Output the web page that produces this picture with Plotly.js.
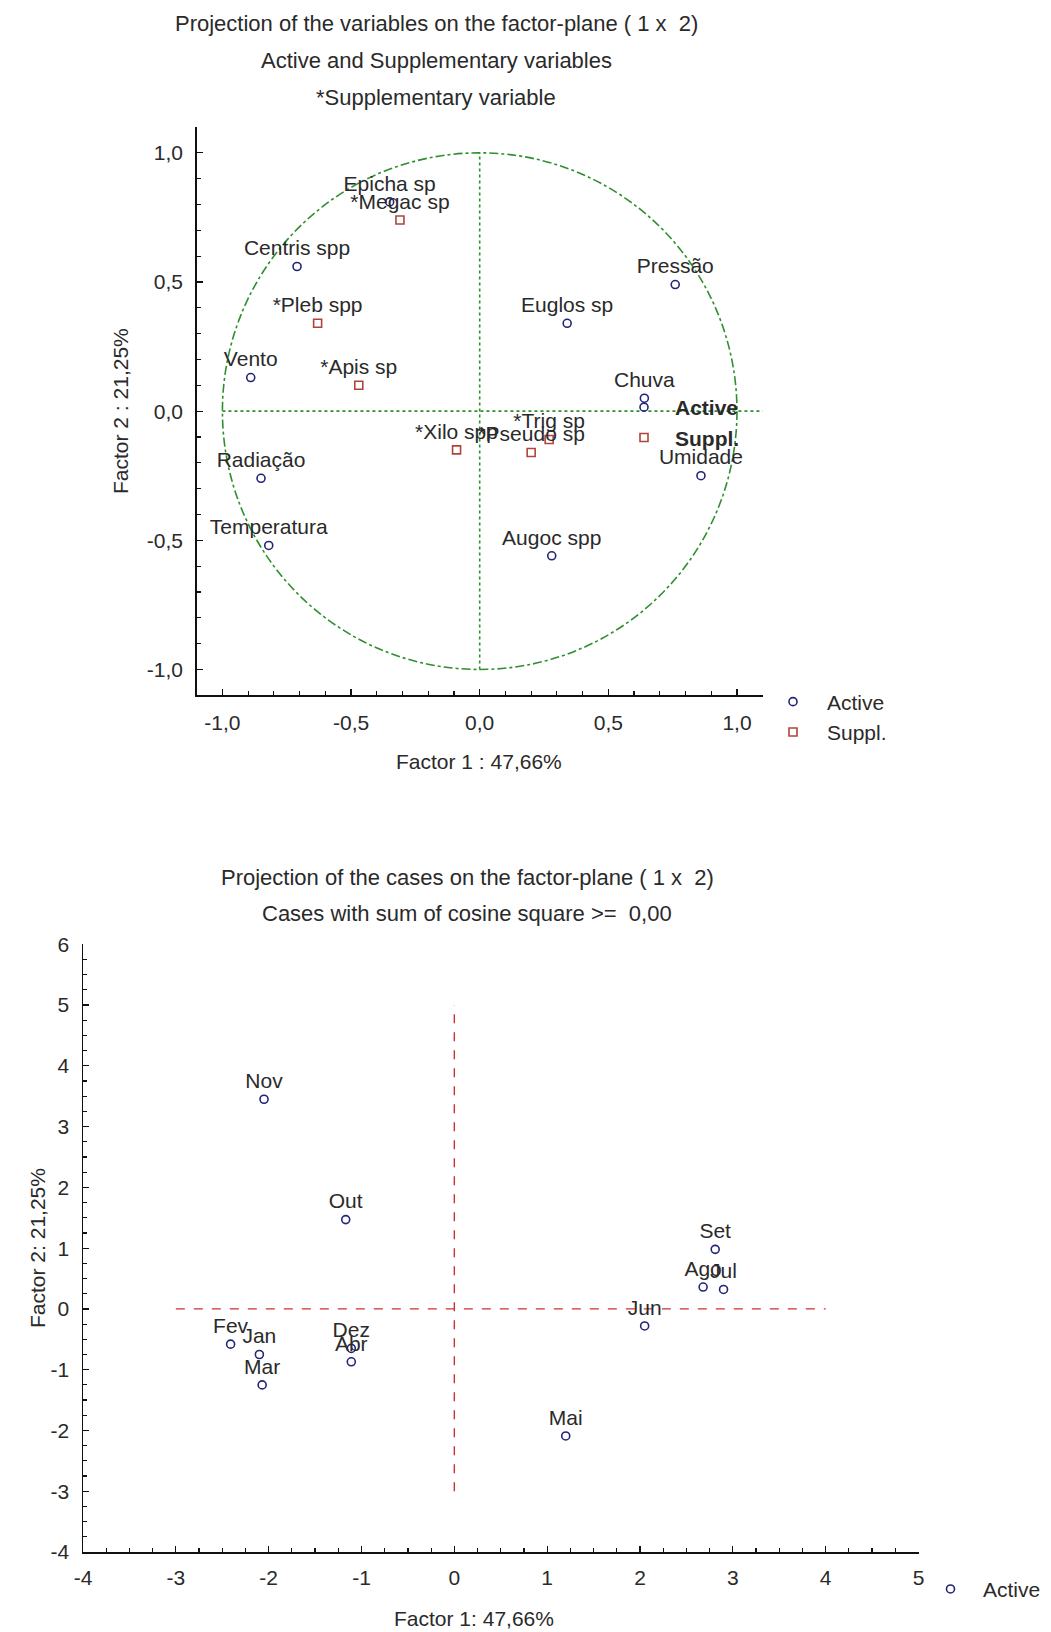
<!DOCTYPE html>
<html>
<head>
<meta charset="utf-8">
<script src="https://cdn.plot.ly/plotly-3.0.1.min.js"></script>
<style>
html,body{margin:0;padding:0;background:#ffffff;}
#chart{width:1051px;height:1632px;}
</style>
</head>
<body>
<div id="chart"></div>
<script>
// ---------- DATA: projection of the variables (factor plane 1 x 2) ----------
const activeVarNames = ['Epicha sp','Centris spp','Vento','Radiação','Temperatura','Augoc spp','Euglos sp','Pressão','Chuva','Umidade'];
const activeVarF1    = [-0.35, -0.71, -0.89, -0.85, -0.82, 0.28, 0.34, 0.76, 0.64, 0.86];
const activeVarF2    = [ 0.81,  0.56,  0.13, -0.26, -0.52, -0.56, 0.34, 0.49, 0.05, -0.25];

const supplVarNames = ['*Megac sp','*Pleb spp','*Apis sp','*Xilo spp','*Pseudo sp','*Trig sp'];
const supplVarF1    = [-0.31, -0.63, -0.47, -0.09, 0.20, 0.27];
const supplVarF2    = [ 0.74,  0.34,  0.10, -0.15, -0.16, -0.11];

// ---------- DATA: projection of the cases (months) ----------
const caseNames = ['Jan','Fev','Mar','Abr','Mai','Jun','Jul','Ago','Set','Out','Nov','Dez'];
const caseF1    = [-2.10, -2.41, -2.07, -1.11, 1.20, 2.05, 2.90, 2.68, 2.81, -1.17, -2.05, -1.11];
const caseF2    = [-0.75, -0.58, -1.25, -0.87, -2.09, -0.28, 0.32, 0.36, 0.98, 1.47, 3.45, -0.65];

// ---------- tick labels ----------
const varTickVals  = [-1, -0.5, 0, 0.5, 1];
const varTickText  = ['-1,0', '-0,5', '0,0', '0,5', '1,0'];
const caseXTickVals = [-4, -3, -2, -1, 0, 1, 2, 3, 4, 5];
const caseXTickText = ['-4', '-3', '-2', '-1', '0', '1', '2', '3', '4', '5'];
const caseYTickVals = [-4, -3, -2, -1, 0, 1, 2, 3, 4, 5, 6];
const caseYTickText = ['-4', '-3', '-2', '-1', '0', '1', '2', '3', '4', '5', '6'];

// ---------- text ----------
const varTitles  = ['Projection of the variables on the factor-plane ( 1 x  2)', 'Active and Supplementary variables', '*Supplementary variable'];
const caseTitles = ['Projection of the cases on the factor-plane ( 1 x  2)', 'Cases with sum of cosine square >=  0,00'];
const varXTitle  = 'Factor 1 : 47,66%';
const varYTitle  = 'Factor 2 : 21,25%';
const caseXTitle = 'Factor 1: 47,66%';
const caseYTitle = 'Factor 2: 21,25%';

// ---------- styling ----------
const W = 1051, H = 1632;
const FONT = 'Liberation Sans, Arial, Helvetica, sans-serif';
const TXT = '#2a2a2a';
const BLUE = '#23237a';
const RED = '#b0443c';
const GREEN = '#2f8f2f';
const DASHRED = '#cc3030';
const AXC = '#111111';

const px = v => v / W;           // pixel x -> paper
const py = v => 1 - v / H;       // pixel y (from top) -> paper

const circleMarker = {symbol:'circle-open', size:8, color:BLUE, line:{width:1.6, color:BLUE}};
const squareMarker = {symbol:'square-open', size:8, color:RED,  line:{width:1.6, color:RED}};
const labelFont = {family:FONT, size:21, color:TXT};

const traces = [
  {type:'scatter', mode:'markers+text', x:activeVarF1, y:activeVarF2, text:activeVarNames,
   textposition:'top center', textfont:labelFont, marker:circleMarker, showlegend:false,
   xaxis:'x', yaxis:'y', cliponaxis:false, hoverinfo:'skip'},
  {type:'scatter', mode:'markers+text', x:supplVarF1, y:supplVarF2, text:supplVarNames,
   textposition:'top center', textfont:labelFont, marker:squareMarker, showlegend:false,
   xaxis:'x', yaxis:'y', cliponaxis:false, hoverinfo:'skip'},
  {type:'scatter', mode:'markers+text', x:caseF1, y:caseF2, text:caseNames,
   textposition:'top center', textfont:labelFont, marker:circleMarker, showlegend:false,
   xaxis:'x2', yaxis:'y2', cliponaxis:false, hoverinfo:'skip'},
  // legend entries
  {type:'scatter', mode:'markers', x:[null], y:[null], name:'Active', marker:circleMarker, legend:'legend',  xaxis:'x', yaxis:'y'},
  {type:'scatter', mode:'markers', x:[null], y:[null], name:'Suppl.', marker:squareMarker, legend:'legend',  xaxis:'x', yaxis:'y'},
  {type:'scatter', mode:'markers', x:[null], y:[null], name:'Active', marker:circleMarker, legend:'legend3', xaxis:'x', yaxis:'y'},
  {type:'scatter', mode:'markers', x:[null], y:[null], name:'Suppl.', marker:squareMarker, legend:'legend3', xaxis:'x', yaxis:'y'},
  {type:'scatter', mode:'markers', x:[null], y:[null], name:'Active', marker:circleMarker, legend:'legend2', xaxis:'x2', yaxis:'y2'}
];

function axisBase(extra) {
  return Object.assign({
    showline:true, linecolor:AXC, linewidth:1.5, mirror:false,
    zeroline:false, showgrid:false,
    ticks:'inside', ticklen:6, tickwidth:1.3, tickcolor:AXC,
    tickmode:'array',
    tickfont:{family:FONT, size:21, color:TXT},
    fixedrange:true
  }, extra);
}

const varRange = [-1.1, 1.1];
const caseXRange = [-4, 5];
const caseYRange = [-4, 6];

const layout = {
  width:W, height:H,
  margin:{l:0, r:0, t:0, b:0, pad:0},
  paper_bgcolor:'#ffffff', plot_bgcolor:'#ffffff',
  font:{family:FONT, size:21, color:TXT},
  showlegend:true,
  hovermode:false,
  xaxis: axisBase({domain:[px(196.7), px(762.7)], range:varRange, anchor:'y',
    tickvals:varTickVals, ticktext:varTickText, ticklabelstandoff:8,
    minor:{tickmode:'linear', tick0:0, dtick:0.1, ticks:'inside', ticklen:4, tickwidth:1.2, tickcolor:AXC, showgrid:false}}),
  yaxis: axisBase({domain:[py(695.3), py(127)], range:varRange, anchor:'x',
    tickvals:varTickVals, ticktext:varTickText, ticklabelstandoff:8,
    minor:{tickmode:'linear', tick0:0, dtick:0.1, ticks:'inside', ticklen:4, tickwidth:1.2, tickcolor:AXC, showgrid:false}}),
  xaxis2: axisBase({domain:[px(83), px(918.5)], range:caseXRange, anchor:'y2',
    tickvals:caseXTickVals, ticktext:caseXTickText, ticklabelstandoff:6,
    minor:{tickmode:'linear', tick0:0, dtick:0.25, ticks:'inside', ticklen:4, tickwidth:1.2, tickcolor:AXC, showgrid:false}}),
  yaxis2: axisBase({domain:[py(1552), py(944.3)], range:caseYRange, anchor:'x2',
    tickvals:caseYTickVals, ticktext:caseYTickText, ticklabelstandoff:8,
    minor:{tickmode:'linear', tick0:0, dtick:0.25, ticks:'inside', ticklen:4, tickwidth:1.2, tickcolor:AXC, showgrid:false}}),
  legend: {x:px(759), xanchor:'left', y:py(717), yanchor:'middle', itemwidth:58,
    font:{family:FONT, size:21, color:TXT}, bgcolor:'rgba(0,0,0,0)', borderwidth:0},
  legend3:{x:px(613), xanchor:'left', y:py(422.5), yanchor:'middle', itemwidth:52,
    font:{family:FONT, size:21, color:TXT, weight:'bold'}, bgcolor:'rgba(0,0,0,0)', borderwidth:0},
  legend2:{x:px(918), xanchor:'left', y:py(1589.3), yanchor:'middle', itemwidth:55,
    font:{family:FONT, size:21, color:TXT}, bgcolor:'rgba(0,0,0,0)', borderwidth:0},
  shapes: [
    // unit circle of correlations
    {type:'circle', xref:'x', yref:'y', x0:-1, y0:-1, x1:1, y1:1,
     line:{color:GREEN, width:1.6, dash:'dashdot'}, layer:'below'},
    {type:'line', xref:'x', yref:'y', x0:0, x1:0, y0:-1, y1:1,
     line:{color:GREEN, width:1.6, dash:'dot'}, layer:'below'},
    {type:'line', xref:'x', yref:'y', x0:-1, x1:varRange[1], y0:0, y1:0,
     line:{color:GREEN, width:1.6, dash:'dot'}, layer:'below'},
    // origin reference lines on the cases plane
    {type:'line', xref:'x2', yref:'y2', x0:-3, x1:4, y0:0, y1:0,
     line:{color:DASHRED, width:1.4, dash:'dash'}, layer:'below'},
    {type:'line', xref:'x2', yref:'y2', x0:0, x1:0, y0:-3, y1:5,
     line:{color:DASHRED, width:1.4, dash:'dash'}, layer:'below'}
  ],
  annotations: []
};

const titleFont = {family:FONT, size:22, color:TXT};
const varTitleY = [24, 61, 97];
varTitles.forEach((t, i) => layout.annotations.push({
  text:t, xref:'paper', yref:'paper', x:px(436), y:py(varTitleY[i]),
  xanchor:'center', yanchor:'middle', showarrow:false, font:titleFont}));
const caseTitleY = [877, 913];
caseTitles.forEach((t, i) => layout.annotations.push({
  text:t, xref:'paper', yref:'paper', x:px(467), y:py(caseTitleY[i]),
  xanchor:'center', yanchor:'middle', showarrow:false, font:titleFont}));

// axis titles
layout.annotations.push({text:varXTitle, xref:'paper', yref:'paper', x:px(479), y:py(761),
  xanchor:'center', yanchor:'middle', showarrow:false, font:{family:FONT, size:21, color:TXT}});
layout.annotations.push({text:varYTitle, xref:'paper', yref:'paper', x:px(120), y:py(411),
  xanchor:'center', yanchor:'middle', showarrow:false, textangle:-90, font:{family:FONT, size:21, color:TXT}});
layout.annotations.push({text:caseXTitle, xref:'paper', yref:'paper', x:px(474), y:py(1618),
  xanchor:'center', yanchor:'middle', showarrow:false, font:{family:FONT, size:21, color:TXT}});
layout.annotations.push({text:caseYTitle, xref:'paper', yref:'paper', x:px(37), y:py(1248),
  xanchor:'center', yanchor:'middle', showarrow:false, textangle:-90, font:{family:FONT, size:21, color:TXT}});

Plotly.newPlot('chart', traces, layout, {staticPlot:true, displayModeBar:false});
</script>
</body>
</html>
